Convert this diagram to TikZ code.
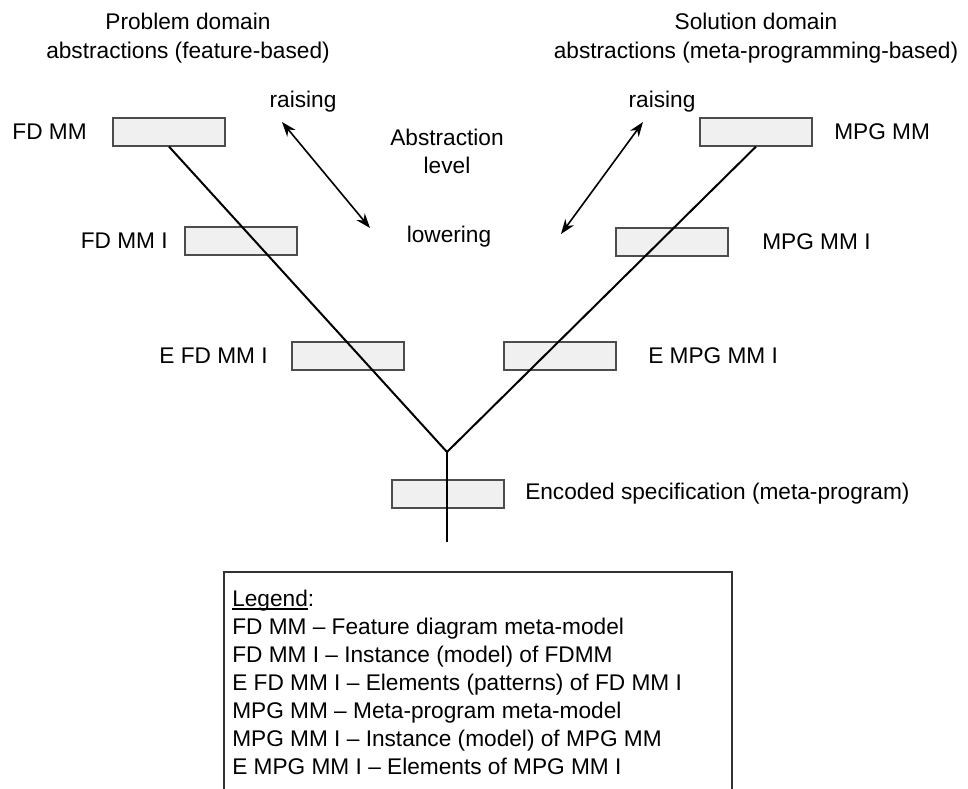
\documentclass[tikz,border=0pt]{standalone}
\usepackage{fontspec}
\setmainfont{Liberation Sans}
\usetikzlibrary{arrows.meta}
\newcommand{\sotto}[1]{\setbox0\hbox{#1}\rlap{\rule[-2.2pt]{\wd0}{0.9pt}}#1}
\tikzset{
>=Stealth,
level box/.style={draw=black!70,fill=black!6,line width=0.9pt,minimum width=84pt,minimum height=21pt,inner sep=0pt},
lbl/.style={inner sep=0pt,font=\fontsize{17}{21}\selectfont},
ramo/.style={line width=1.5pt},
freccia/.style={<->,line width=1.2pt,>={Stealth[length=11pt,width=8pt]}}}

\begin{document}
\begin{tikzpicture}[x=0.75pt,y=-0.75pt]
\useasboundingbox (0,0) rectangle (968,789);

\node[lbl,align=center,font=\fontsize{17}{22}\selectfont] (pd) at (188,38) {Problem domain\\abstractions (feature-based)};
\node[lbl,align=center,font=\fontsize{17}{22}\selectfont] (sd) at (756,38) {Solution domain\\abstractions (meta-programming-based)};

\node[lbl] (raisel) at (303,102) {raising};
\node[lbl] (raiser) at (662,102) {raising};
\node[lbl,align=center] (abs) at (447,151) {Abstraction\\level};
\node[lbl] (lower) at (449,237) {lowering};

\node[level box] (fdmm) at (169,132) {};
\node[level box] (fdmmi) at (241,241) {};
\node[level box] (efdmmi) at (348,356) {};
\node[level box] (mpgmm) at (756,132) {};
\node[level box] (mpgmmi) at (672,242) {};
\node[level box] (empgmmi) at (560,356) {};
\node[level box] (enc) at (448,494) {};

\node[lbl,anchor=east] (fdmmlbl) at (87,132) {FD MM};
\node[lbl,anchor=east] (fdmmilbl) at (168,241) {FD MM I};
\node[lbl,anchor=east] (efdmmilbl) at (268,356) {E FD MM I};
\node[lbl,anchor=west] (mpgmmlbl) at (834,132) {MPG MM};
\node[lbl,anchor=west] (mpgmmilbl) at (762,242) {MPG MM I};
\node[lbl,anchor=west] (empgmmilbl) at (648,356) {E MPG MM I};
\node[lbl,anchor=west] (enclbl) at (525,494) {Encoded specification (meta-program)};

\coordinate (fork) at (447,452);
\coordinate (stem) at (447,542);
\draw[ramo] (fdmm.south) -- (fork) -- (mpgmm.south);
\draw[ramo] (fork) -- (stem);

\coordinate (al1) at (282,122);
\coordinate (al2) at (370,228);
\coordinate (ar1) at (643,122);
\coordinate (ar2) at (561,234);
\draw[freccia] (al1) -- (al2);
\draw[freccia] (ar1) -- (ar2);

\draw[line width=0.9pt,black!80] (224,789) |- (732,572) -- (732,789);
\node[lbl,align=left,anchor=north west] (legend) at (232,590) {\sotto{Legend}:\\
FD MM -- Feature diagram meta-model\\
FD MM I -- Instance (model) of FDMM\\
E FD MM I -- Elements (patterns) of FD MM I\\
MPG MM -- Meta-program meta-model\\
MPG MM I -- Instance (model) of MPG MM\\
E MPG MM I -- Elements of MPG MM I};
\end{tikzpicture}
\end{document}
